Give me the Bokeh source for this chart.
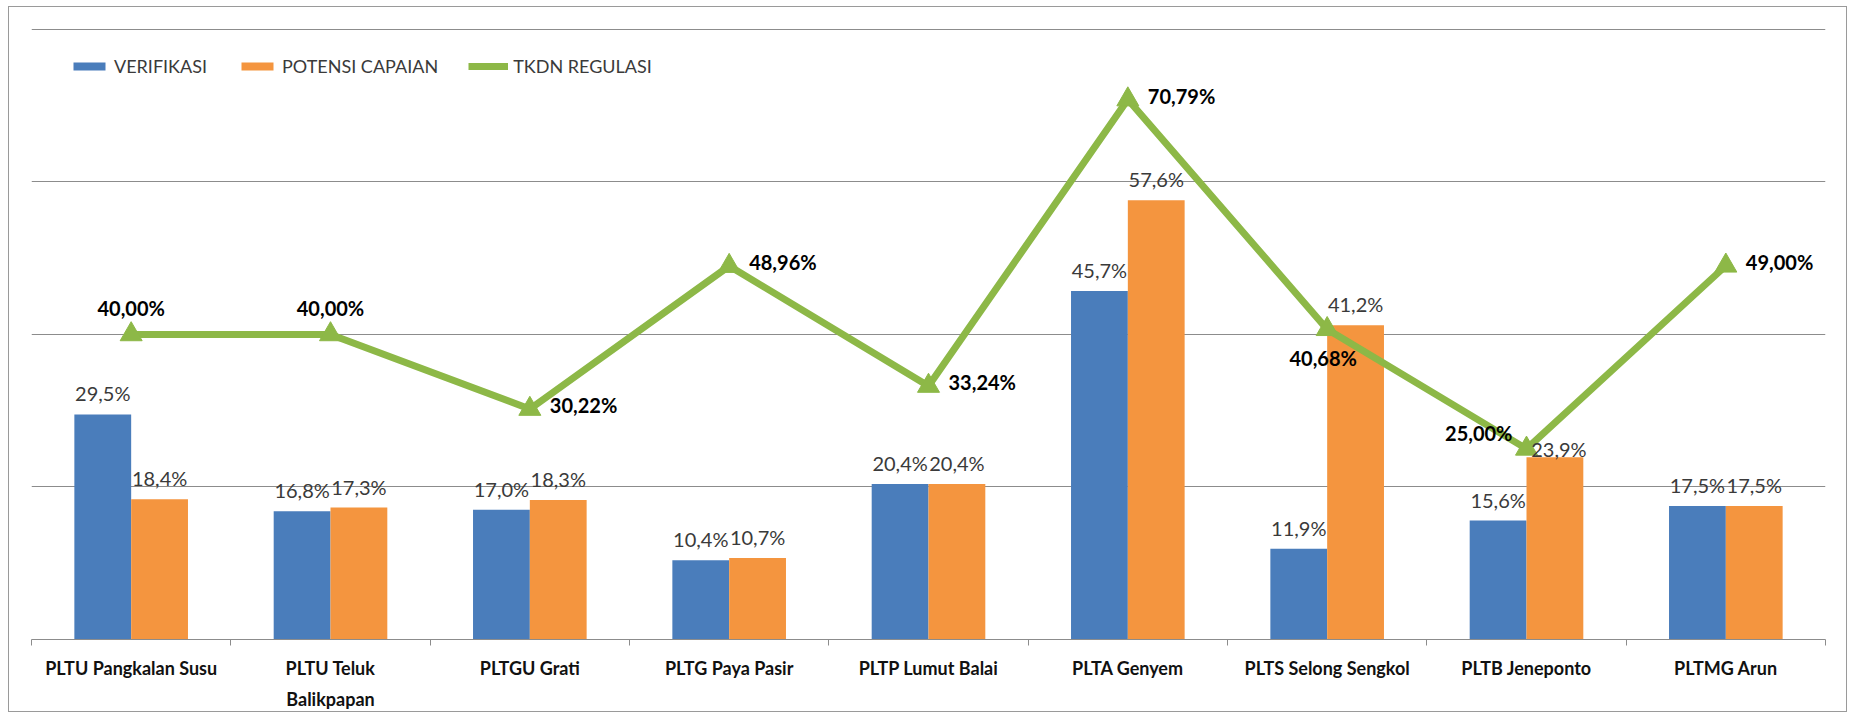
from bokeh.plotting import figure
from bokeh.models import ColumnDataSource, FixedTicker, Legend, LegendItem, Range1d
from bokeh.core.properties import value
from bokeh.embed import file_html
from bokeh.resources import INLINE

# ---------------- data ----------------
categories = ["PLTU Pangkalan Susu", "PLTU Teluk\nBalikpapan", "PLTGU Grati", "PLTG Paya Pasir",
              "PLTP Lumut Balai", "PLTA Genyem", "PLTS Selong Sengkol", "PLTB Jeneponto", "PLTMG Arun"]
verifikasi = [29.5, 16.8, 17.0, 10.4, 20.4, 45.7, 11.9, 15.6, 17.5]
potensi = [18.4, 17.3, 18.3, 10.7, 20.4, 57.6, 41.2, 23.9, 17.5]
tkdn = [40.00, 40.00, 30.22, 48.96, 33.24, 70.79, 40.68, 25.00, 49.00]
series_names = ["VERIFIKASI", "POTENSI CAPAIAN", "TKDN REGULASI"]
grid_values = [20, 40, 60, 80]

# label placement for the TKDN line labels (style)
tkdn_place = ["above", "above", "right", "right", "right", "right", "below", "left", "right"]
# extra screen-pixel nudge of the POTENSI labels (style; one label was moved beside a marker)
potensi_nudge_x = [0, 0, 0, 0, 0, 0, 0, 4, 0]
potensi_nudge_y = [0, 0, 0, 0, 0, 0, 0, 13, 0]

# ---------------- style ----------------
BLUE = "#4A7DBB"
ORANGE = "#F4953F"
GREEN = "#8DB847"
GRID = "#8C8C8C"
FONT = "Lato"
BAR_W = 0.285

n = len(categories)
centers = [i + 0.5 for i in range(n)]
bounds = [i for i in range(n + 1)]


def pct1(v):
    return ("%.1f" % v).replace(".", ",") + "%"


def pct2(v):
    return ("%.2f" % v).replace(".", ",") + "%"


p = figure(width=1839, height=706, x_range=Range1d(0, n), y_range=Range1d(0, 80.1),
           output_backend="svg", toolbar_location=None, y_axis_location=None,
           min_border_left=22, min_border_right=23, min_border_top=21, min_border_bottom=71)
p.styles = {"border": "1px solid #9a9a9a", "margin-left": "8px", "margin-top": "6px"}
p.outline_line_color = None
p.background_fill_color = "white"
p.border_fill_color = "white"

p.xgrid.visible = False
p.ygrid.ticker = FixedTicker(ticks=grid_values)
p.ygrid.grid_line_color = GRID
p.ygrid.grid_line_width = 1

ax = p.xaxis[0]
ax.ticker = FixedTicker(ticks=centers, minor_ticks=bounds)
ax.major_label_overrides = {c: name for c, name in zip(centers, categories)}
ax.major_tick_line_color = None
ax.major_tick_out = 0
ax.major_tick_in = 0
ax.minor_tick_line_color = GRID
ax.minor_tick_out = 6
ax.minor_tick_in = 0
ax.axis_line_color = GRID
ax.axis_line_width = 1
ax.major_label_standoff = 11
ax.major_label_text_font = FONT
ax.major_label_text_font_style = "bold"
ax.major_label_text_font_size = "18px"
ax.major_label_text_color = "#111111"
ax.major_label_text_line_height = 1.45

# bars
bx1 = [c - BAR_W / 2 for c in centers]
bx2 = [c + BAR_W / 2 for c in centers]
src1 = ColumnDataSource(dict(x=bx1, top=verifikasi, lab=[pct1(v) for v in verifikasi],
                             dx=[0] * n, dy=[-21] * n))
src2 = ColumnDataSource(dict(x=bx2, top=potensi, lab=[pct1(v) for v in potensi],
                             dx=potensi_nudge_x, dy=[-21 + d for d in potensi_nudge_y]))
r1 = p.vbar(x="x", top="top", width=BAR_W, bottom=0, source=src1, fill_color=BLUE, line_color=None)
r2 = p.vbar(x="x", top="top", width=BAR_W, bottom=0, source=src2, fill_color=ORANGE, line_color=None)

# line
rl = p.line(x=centers, y=tkdn, line_color=GREEN, line_width=7, line_join="miter")
rm = p.scatter(x=centers, y=tkdn, marker="triangle", size=22, fill_color=GREEN, line_color=GREEN)

# bar value labels
for s in (src1, src2):
    p.text(x="x", y="top", text="lab", source=s, text_align="center", text_baseline="alphabetic",
           x_offset="dx", y_offset="dy", text_font=value(FONT), text_font_size="20px",
           text_color="#3a3a3a")

# line value labels
offsets = {"above": (0, -26, "center"), "below": (-4, 29, "center"),
           "right": (20, -4, "left"), "left": (-14, -15.5, "right")}
for place, (dx, dy, align) in offsets.items():
    idx = [i for i in range(n) if tkdn_place[i] == place]
    if not idx:
        continue
    s = ColumnDataSource(dict(x=[centers[i] for i in idx], y=[tkdn[i] for i in idx],
                              lab=[pct2(tkdn[i]) for i in idx]))
    p.text(x="x", y="y", text="lab", source=s, x_offset=dx, y_offset=dy, text_align=align,
           text_baseline="alphabetic", text_font=value(FONT), text_font_style="bold",
           text_font_size="20px", text_color="#000000")

legend = Legend(items=[LegendItem(label=series_names[0], renderers=[r1]),
                       LegendItem(label=series_names[1], renderers=[r2]),
                       LegendItem(label=series_names[2], renderers=[rl, rm])],
                orientation="horizontal", location=(38, 562), glyph_width=40, glyph_height=10,
                label_standoff=5, spacing=30, padding=0, margin=0, border_line_color=None,
                background_fill_alpha=0, label_text_font=FONT, label_text_font_size="18px",
                label_text_color="#3a3a3a", label_height=20)
p.add_layout(legend)

open("out.html", "w").write(file_html(p, INLINE))
